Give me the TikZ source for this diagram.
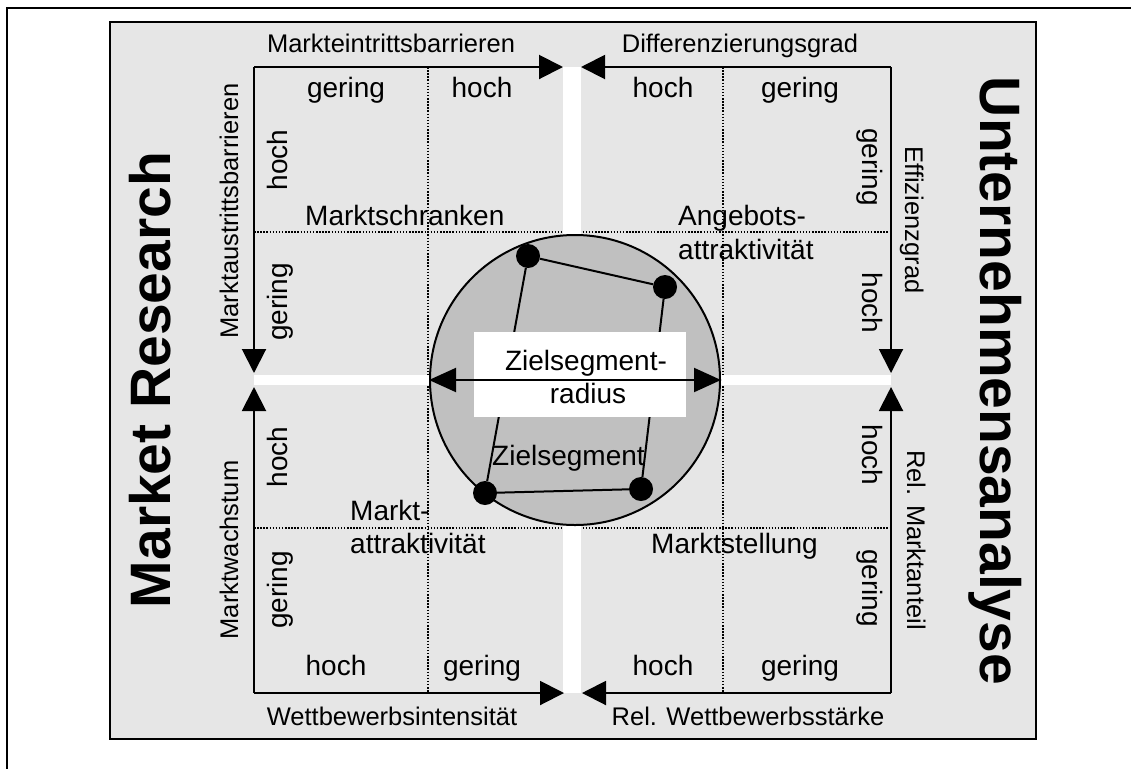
\documentclass[tikz,border=0pt]{standalone}
\usepackage{fontspec}
\setmainfont{Liberation Sans}
\usetikzlibrary{arrows.meta}
\definecolor{boxgray}{HTML}{E6E6E6}
\definecolor{circgray}{HTML}{C0C0C0}
\begin{document}
\begin{tikzpicture}[x=1pt,y=-1pt,
  small/.style={font=\fontsize{25.5}{30}\selectfont, inner sep=0pt, anchor=base},
  lbl/.style={font=\fontsize{28}{34}\selectfont, inner sep=0pt, anchor=base},
  lblw/.style={font=\fontsize{28}{34}\selectfont, inner sep=0pt, anchor=base west},
  big/.style={font=\fontsize{57}{64}\selectfont\bfseries, inner sep=0pt, anchor=base},
  axis/.style={line width=2pt, -{Triangle[length=24pt,width=24pt]}},
  gridline/.style={line width=1.5pt, dash pattern=on 1.5pt off 1.6pt},
  band/.style={fill=white, draw=none},
  dotnode/.style={circle, fill=black, minimum size=24pt, inner sep=0pt},
  edge/.style={line width=2pt}]
\useasboundingbox (0,0) rectangle (1131,769);
% page frame
\draw[line width=2pt] (1131,8) -- (7,8) -- (7,769);
% grey panel
\node[draw=black, line width=2.2pt, fill=boxgray, minimum width=926pt, minimum height=717pt, inner sep=0pt] (panel) at (573,380.5) {};
% coordinates
\coordinate (TL) at (254,67);
\coordinate (TR) at (891,67);
\coordinate (BL) at (254,693);
\coordinate (BR) at (891,693);
\coordinate (tL) at (563,67);
\coordinate (tR) at (581,67);
\coordinate (bL) at (564,693);
\coordinate (bR) at (582,693);
\coordinate (lU) at (254,373);
\coordinate (lD) at (254,387);
\coordinate (rU) at (891,373);
\coordinate (rD) at (891,387);
% dotted grid
\coordinate (g1a) at (428,67); \coordinate (g1b) at (428,693);
\coordinate (g2a) at (723,67); \coordinate (g2b) at (723,693);
\coordinate (g3a) at (254,232); \coordinate (g3b) at (891,232);
\coordinate (g4a) at (254,528); \coordinate (g4b) at (891,528);
\draw[gridline] (g1a) -- (g1b);
\draw[gridline] (g2a) -- (g2b);
\draw[gridline] (g3a) -- (g3b);
\draw[gridline] (g4a) -- (g4b);
% white cross
\fill[band] (563,67) rectangle (581,693);
\fill[band] (254,375) rectangle (891,385);
% axes
\draw[axis] (TL) -- (tL);
\draw[axis] (TR) -- (tR);
\draw[axis] (BL) -- (bL);
\draw[axis] (BR) -- (bR);
\draw[axis] (TL) -- (lU);
\draw[axis] (BL) -- (lD);
\draw[axis] (TR) -- (rU);
\draw[axis] (BR) -- (rD);
% target circle
\node[circle, draw=black, line width=2pt, fill=circgray, minimum size=290pt, inner sep=0pt] (zs) at (575,380) {};
\node[dotnode] (p1) at (528,256) {};
\node[dotnode] (p2) at (665,287) {};
\node[dotnode] (p3) at (641,489) {};
\node[dotnode] (p4) at (485,493) {};
\draw[edge] (p1) -- (p2) -- (p3) -- (p4) -- (p1);
\node[fill=white, minimum width=212pt, minimum height=85pt, inner sep=0pt] (wbox) at (580,374.5) {};
\draw[line width=2pt, {Triangle[length=27pt,width=24pt]}-{Triangle[length=27pt,width=24pt]}] (zs.west) -- (zs.east);
\node[lbl] (zt1) at (586,370) {Zielsegment-};
\node[lbl] (zt2) at (588,403) {radius};
\node[lblw] (zseg) at (492,465) {Zielsegment};
% axis titles
\node[small] (mEin) at (391,52) {Markteintrittsbarrieren};
\node[small] (diff) at (740,52) {Differenzierungsgrad};
\node[small] (wett) at (392,725) {Wettbewerbsintensität};
\node[small] (relw) at (748,725) {Rel. Wettbewerbsstärke};
\node[small, rotate=90] (maus) at (238,211) {Marktaustrittsbarrieren};
\node[small, rotate=90] (mwach) at (238,550) {Marktwachstum};
\node[small, rotate=-90] (eff) at (905,220) {Effizienzgrad};
\node[small, rotate=-90] (relm) at (907,540) {Rel. Marktanteil};
% value labels
\node[lbl] (v1) at (346,97) {gering};
\node[lbl] (v2) at (482,97) {hoch};
\node[lbl] (v3) at (663,97) {hoch};
\node[lbl] (v4) at (800,97) {gering};
\node[lbl] (v5) at (336,675) {hoch};
\node[lbl] (v6) at (482,675) {gering};
\node[lbl] (v7) at (663,675) {hoch};
\node[lbl] (v8) at (800,675) {gering};
\node[lbl, rotate=90] (v9) at (287,160) {hoch};
\node[lbl, rotate=90] (v10) at (287,302) {gering};
\node[lbl, rotate=90] (v11) at (287,457) {hoch};
\node[lbl, rotate=90] (v12) at (287,590) {gering};
\node[lbl, rotate=-90] (v13) at (862,167) {gering};
\node[lbl, rotate=-90] (v14) at (862,303) {hoch};
\node[lbl, rotate=-90] (v15) at (862,455) {hoch};
\node[lbl, rotate=-90] (v16) at (862,588) {gering};
% quadrant names
\node[lblw] (q1) at (305,225) {Marktschranken};
\node[lblw] (q2a) at (678,225) {Angebots-};
\node[lblw] (q2b) at (678,259) {attraktivität};
\node[lblw] (q3a) at (350,520) {Markt-};
\node[lblw] (q3b) at (350,553) {attraktivität};
\node[lblw] (q4) at (651,553) {Marktstellung};
% big side titles
\node[big, rotate=90] (mr) at (170,380) {Market Research};
\node[big, rotate=-90] (ua) at (980,381) {Unternehmensanalyse};
\end{tikzpicture}
\end{document}
